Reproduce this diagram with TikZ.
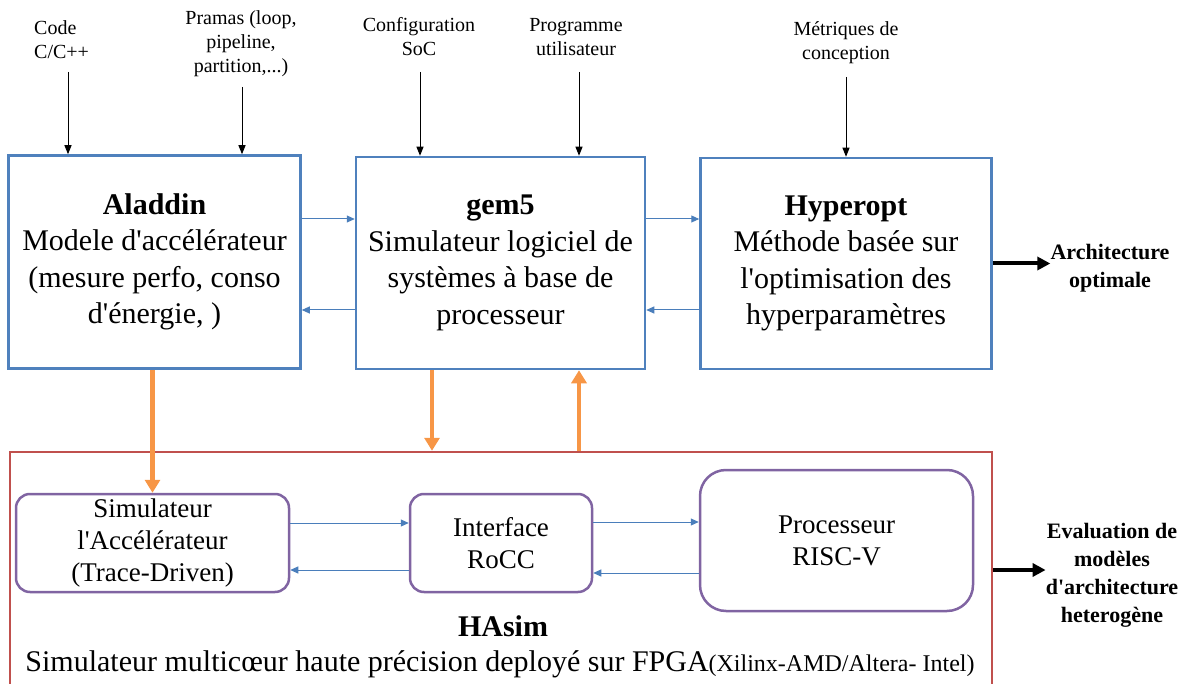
\documentclass[tikz,border=0pt]{standalone}
\usepackage{fontspec}
\setmainfont{Liberation Serif}[Ligatures=TeXOff]
\usetikzlibrary{arrows.meta}
\definecolor{boxblue}{HTML}{4F81BD}
\definecolor{linkblue}{HTML}{4A7EBB}
\definecolor{hasred}{HTML}{C0504D}
\definecolor{simpurple}{HTML}{8064A2}
\definecolor{feedorange}{HTML}{F79646}

\begin{document}
\begin{tikzpicture}[x=1pt,y=-1pt,
    every node/.style={align=center,inner sep=0pt},
    lbl/.style={font=\fontsize{20}{24}\selectfont},
    outlbl/.style={font=\bfseries\fontsize{22}{28}\selectfont},
    bigbox/.style={draw=boxblue,line width=2.5pt,font=\fontsize{30}{36.5}\selectfont},
    simbox/.style={draw=simpurple,line width=2.5pt,rounded corners=14pt,font=\fontsize{27}{32}\selectfont},
    inarrow/.style={-{Triangle[length=9pt,width=7pt]},line width=0.9pt},
    link/.style={draw=linkblue,-{Triangle[length=8pt,width=7pt]},line width=1pt},
    orarrow/.style={draw=feedorange,-{Triangle[length=13pt,width=15pt]},line width=4.5pt},
    outarrow/.style={-{Triangle[length=13pt,width=13pt]},line width=4pt}]
    \useasboundingbox (0,0) rectangle (1193,684);

    \node[lbl,anchor=west,align=left] (code) at (34,40) {Code\\C/C++};
    \node[lbl] (prag) at (241,44) {Pramas (loop,\\pipeline,\\partition,...)};
    \node[lbl] (conf) at (419,37) {Configuration\\SoC};
    \node[lbl] (prog) at (576,37) {Programme\\utilisateur};
    \node[lbl] (metr) at (846,43) {Métriques de\\conception};
    \coordinate (codein) at (68,72);
    \coordinate (pragin) at (242,87);
    \coordinate (confin) at (420,72);
    \coordinate (progin) at (579,72);
    \coordinate (metrin) at (846,77);

    \node[bigbox,minimum width=292pt,minimum height=213pt] (ala) at (154.5,262) {\textbf{Aladdin}\\Modele d'accélérateur\\(mesure perfo, conso\\d'énergie, )};
    \node[bigbox,minimum width=289pt,minimum height=212pt] (gem) at (500.5,263) {\textbf{gem5}\\Simulateur logiciel de\\systèmes à base de\\processeur};
    \node[bigbox,minimum width=291pt,minimum height=211pt] (hyp) at (846,263.5) {\textbf{Hyperopt}\\Méthode basée sur\\l'optimisation des\\hyperparamètres};
    \node[outlbl] (arch) at (1110,268) {Architecture\\optimale};

    \node[draw=hasred,line width=2.5pt,minimum width=982pt,minimum height=250pt] (has) at (501,577) {};
    \node[simbox,minimum width=273pt,minimum height=98pt] (sim) at (152.5,543) {Simulateur\\l'Accélérateur\\(Trace-Driven)};
    \node[simbox,minimum width=182pt,minimum height=98pt] (roc) at (501,543) {Interface\\RoCC};
    \node[simbox,rounded corners=26pt,minimum width=273pt,minimum height=141pt] (risc) at (836.5,540.5) {Processeur\\RISC-V};
    \node[font=\bfseries\fontsize{30}{36}\selectfont] (hastitle) at (503,626) {HAsim};
    \node[font=\fontsize{30}{36}\selectfont] (hasdesc) at (500,664) {Simulateur multicœur haute précision deployé sur FPGA{\fontsize{24}{28}\selectfont(Xilinx-AMD/Altera- Intel)}};
    \node[outlbl] (eval) at (1112,575) {Evaluation de\\modèles\\d'architecture\\heterogène};

    \draw[inarrow] (codein) -- (codein |- ala.north);
    \draw[inarrow] (pragin) -- (pragin |- ala.north);
    \draw[inarrow] (confin) -- (confin |- gem.north);
    \draw[inarrow] (progin) -- (progin |- gem.north);
    \draw[inarrow] (metrin) -- (metrin |- hyp.north);

    \draw[link] ([yshift=43pt]ala.east) -- ([yshift=43pt]ala.east -| gem.west);
    \draw[link] ([yshift=-48pt]ala.east -| gem.west) -- ([yshift=-48pt]ala.east);
    \draw[link] ([yshift=44pt]gem.east) -- ([yshift=44pt]gem.east -| hyp.west);
    \draw[link] ([yshift=-47pt]gem.east -| hyp.west) -- ([yshift=-47pt]gem.east);
    \draw[link] ([yshift=20pt]sim.east) -- ([yshift=20pt]sim.east -| roc.west);
    \draw[link] ([yshift=-27pt]sim.east -| roc.west) -- ([yshift=-27pt]sim.east);
    \draw[link] ([yshift=21pt]roc.east) -- ([yshift=21pt]roc.east -| risc.west);
    \draw[link] ([yshift=-30pt]roc.east -| risc.west) -- ([yshift=-30pt]roc.east);

    \draw[orarrow] (ala.south -| sim.north) -- (sim.north);
    \draw[orarrow] ([xshift=-68.5pt]gem.south) -- ([xshift=-68.5pt]gem.south |- has.north);
    \draw[orarrow] ([xshift=78.5pt]gem.south |- has.north) -- ([xshift=78.5pt]gem.south);

    \draw[outarrow] (hyp.east) -- (hyp.east -| arch.west);
    \draw[outarrow] ([yshift=5pt]eval.west -| has.east) -- ([yshift=5pt]eval.west);
\end{tikzpicture}
\end{document}
